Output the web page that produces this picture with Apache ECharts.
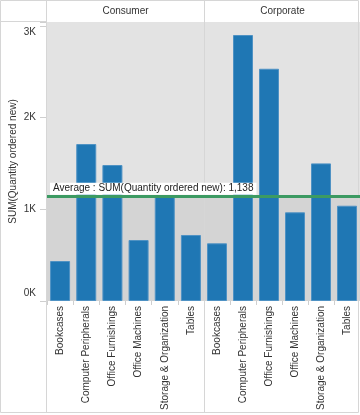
<!DOCTYPE html>
<html><head><meta charset="utf-8">
<script src="https://cdn.jsdelivr.net/npm/echarts@6/dist/echarts.min.js"></script>
<style>html,body{margin:0;padding:0;background:#fff}#c{width:360px;height:415px}</style>
</head><body><div id="c"></div>
<script>
var panels = ['Consumer', 'Corporate'];
var categories = ['Bookcases', 'Computer Peripherals', 'Office Furnishings', 'Office Machines', 'Storage & Organization', 'Tables'];
var consumerValues = [436, 1712, 1483, 665, 1156, 720];
var corporateValues = [629, 2901, 2533, 967, 1501, 1039];
var averageValue = 1138;
var averageLabel = 'Average : SUM(Quantity ordered new): 1,138';
var yTicks = [0, 1000, 2000, 3000];
var yTickLabels = ['0K', '1K', '2K', '3K'];
var yMax = 3043;

var FONT = '"Liberation Sans", Arial, sans-serif';
var chart = echarts.init(document.getElementById('c'), null, {renderer: 'canvas'});
var gridTop = 22, gridH = 279, gridW = 157;
var lefts = [47, 204];

function yFmt(v) {
  var i = yTicks.indexOf(v);
  if (i < 0) return '';
  if (i === yTicks.length - 1) return '{top|' + yTickLabels[i] + '}';
  if (i === 0) return '{bot|' + yTickLabels[i] + '}';
  return yTickLabels[i];
}

var seriesData = [consumerValues, corporateValues];
var grids = [], xAxes = [], yAxes = [], series = [];
for (var p = 0; p < 2; p++) {
  grids.push({left: lefts[p], top: gridTop, width: gridW, height: gridH, show: true, backgroundColor: '#e3e3e3', borderWidth: 0, containLabel: false});
  xAxes.push({
    type: 'category', gridIndex: p, data: categories,
    axisLine: {show: false},
    axisTick: {show: true, length: 4, lineStyle: {color: '#cfcfcf'}},
    axisLabel: {rotate: 90, fontSize: 10, margin: 5, color: '#333', fontFamily: FONT, interval: 0}
  });
  yAxes.push({
    type: 'value', gridIndex: p, min: 0, max: yMax, interval: 1000,
    show: p === 0,
    name: p === 0 ? 'SUM(Quantity ordered new)' : '',
    nameLocation: 'middle', nameGap: 29,
    nameTextStyle: {fontSize: 10, color: '#333', fontFamily: FONT},
    splitLine: {show: false},
    axisLine: {show: false},
    axisTick: {show: true, length: 7, lineStyle: {color: '#cfcfcf'}},
    axisLabel: {
      formatter: yFmt, fontSize: 10, color: '#333', margin: 11, fontFamily: FONT,
      rich: {top: {fontSize: 10, color: '#333', fontFamily: FONT, padding: [13, 0, 0, 0]},
             bot: {fontSize: 10, color: '#333', fontFamily: FONT, padding: [0, 0, 16, 0]}}
    }
  });
  series.push({
    type: 'bar', xAxisIndex: p, yAxisIndex: p, data: seriesData[p], barWidth: 20,
    itemStyle: {color: '#1f77b4', borderColor: '#4f92c4', borderWidth: 1},
    clip: false,
    markArea: {silent: true, z: 1, itemStyle: {color: '#d4d4d4'},
      data: [[{yAxis: 0}, {yAxis: averageValue}]]},
    markLine: {
      silent: true, symbol: 'none', z: 10,
      lineStyle: {color: '#3c9a62', width: 3, type: 'solid'},
      label: p === 0 ? {
        show: true, position: 'insideStartTop', formatter: averageLabel,
        backgroundColor: '#fff', padding: [1, 3, 1, 3], fontSize: 10, color: '#222',
        fontFamily: FONT, distance: [3, 2]
      } : {show: false},
      data: [{yAxis: averageValue}]
    }
  });
}

var lineColor = '#d6d6d6';
var graphics = [
  {type: 'rect', shape: {x: 0.5, y: 0.5, width: 358, height: 412}, style: {fill: null, stroke: lineColor, lineWidth: 1}, z: 2},
  {type: 'line', shape: {x1: 204.5, y1: 0, x2: 204.5, y2: 413}, style: {stroke: lineColor, lineWidth: 1}, z: 2},
  {type: 'line', shape: {x1: 46.5, y1: 0, x2: 46.5, y2: 413}, style: {stroke: lineColor, lineWidth: 1}, z: 2},
  {type: 'line', shape: {x1: 0, y1: 21.5, x2: 47, y2: 21.5}, style: {stroke: lineColor, lineWidth: 1}, z: 2}
];
for (var q = 0; q < 2; q++) {
  graphics.push({type: 'text', x: lefts[q] + gridW / 2, y: 11, z: 100,
    style: {text: panels[q], font: '10px ' + FONT, fill: '#333', textAlign: 'center', textVerticalAlign: 'middle'}});
}

chart.setOption({
  animation: false,
  textStyle: {fontFamily: FONT},
  grid: grids, xAxis: xAxes, yAxis: yAxes, series: series,
  graphic: graphics
});
</script></body></html>
